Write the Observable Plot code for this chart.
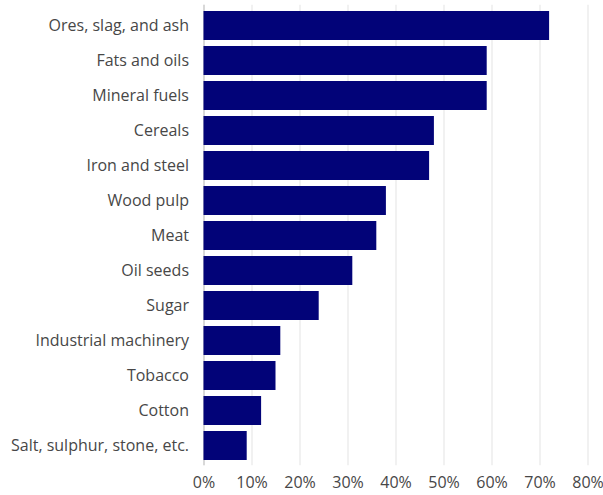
<!DOCTYPE html>
<html>
<head>
<meta charset="utf-8">
<script src="https://cdn.jsdelivr.net/npm/d3@7"></script>
<script src="https://cdn.jsdelivr.net/npm/@observablehq/plot@0.6"></script>
<style>
  html, body { margin: 0; padding: 0; background: #fff; }
  #chart svg { display: block; }
</style>
</head>
<body>
<div id="chart"></div>
<script>
const categories = [
  "Ores, slag, and ash", "Fats and oils", "Mineral fuels", "Cereals",
  "Iron and steel", "Wood pulp", "Meat", "Oil seeds", "Sugar",
  "Industrial machinery", "Tobacco", "Cotton", "Salt, sulphur, stone, etc."
];
const values = [72, 59, 59, 48, 47, 38, 36, 31, 24, 16, 15, 12, 9];
const xTicks = [0, 10, 20, 30, 40, 50, 60, 70, 80];

const data = categories.map((c, i) => ({category: c, value: values[i]}));

const chart = Plot.plot({
  width: 603,
  height: 495,
  marginTop: 4.8,
  marginBottom: 29.8,
  marginLeft: 203.5,
  marginRight: 15.5,
  style: {fontFamily: "'Open Sans', sans-serif", fontSize: "16px", color: "#474747", background: "#fff"},
  x: {domain: [0, 80], ticks: xTicks, tickFormat: d => d + "%", label: null, tickSize: 0, tickPadding: 11},
  y: {domain: categories, range: [4.8, 465.2], label: null, tickSize: 0, tickPadding: 15, paddingInner: 0.18, paddingOuter: 0.09},
  marks: [
    Plot.gridX(xTicks, {stroke: "#ececec", strokeOpacity: 1, strokeWidth: 1.5}),
    Plot.ruleX([0], {stroke: "#cfcfcf", strokeWidth: 1.5}),
    Plot.barX(data, {y: "category", x: "value", fill: "#020378"})
  ]
});
document.getElementById("chart").appendChild(chart);
</script>
</body>
</html>
